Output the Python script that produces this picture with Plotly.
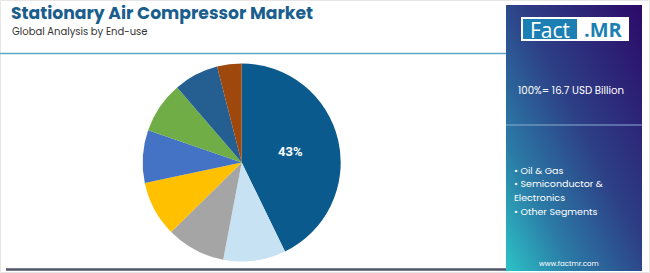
import base64
import plotly.graph_objects as go

# Data
segments = ["Oil & Gas", "Semiconductor & Electronics", "Food & Beverage", "Manufacturing",
            "Healthcare", "Power Generation", "Automotive", "Others"]
shares = [42.8, 10.2, 9.6, 9.1, 8.6, 8.4, 7.3, 4.0]
labels_shown = ["43%", "", "", "", "", "", "", ""]
colors = ["#0b5a8e", "#c7e2f3", "#a5a5a5", "#ffc000", "#4472c4", "#70ad47", "#255e91", "#9e480e"]

title = "Stationary Air Compressor Market"
subtitle = "Global Analysis by End-use"
total_text = "100%= 16.7 USD Billion"
bullets = ["• Oil & Gas", "• Semiconductor &", "Electronics", "• Other Segments"]

W, H = 650, 273
def px(x): return x / W
def py(y): return 1 - y / H

fig = go.Figure()
cx, cy, r = 241.7, 162.5, 99
fig.add_trace(go.Pie(
    labels=segments, values=shares, text=labels_shown, textinfo="text",
    textposition="inside", insidetextorientation="horizontal",
    marker=dict(colors=colors, line=dict(width=0)),
    sort=False, direction="clockwise", rotation=0, showlegend=False,
    textfont=dict(family="Roboto", size=13, color="white", weight="bold"),
    domain=dict(x=[px(cx - r), px(cx + r)], y=[py(cy + r), py(cy - r)]),
    hoverinfo="label+percent",
))

# gradient panel as svg image
svg = ('<svg xmlns="http://www.w3.org/2000/svg" width="136" height="266" preserveAspectRatio="none">'
       '<defs><linearGradient id="g" x1="1" y1="0" x2="0" y2="1">'
       '<stop offset="0" stop-color="#2c0a68"/>'
       '<stop offset="0.45" stop-color="#2d3f86"/>'
       '<stop offset="0.75" stop-color="#2b7aa6"/>'
       '<stop offset="1" stop-color="#2cc3c6"/>'
       '</linearGradient></defs><rect width="136" height="266" fill="url(#g)"/></svg>')
src = "data:image/svg+xml;base64," + base64.b64encode(svg.encode()).decode()
fig.add_layout_image(dict(source=src, xref="paper", yref="paper", x=px(506), y=py(5),
                          sizex=px(642) - px(506), sizey=266 / H, sizing="stretch",
                          xanchor="left", yanchor="top", layer="below"))

shapes = [
    dict(type="rect", xref="paper", yref="paper", x0=px(0.5), x1=px(649.5), y0=py(0.5), y1=py(272.5),
         line=dict(color="#e6e6e6", width=1), layer="below"),
    dict(type="line", xref="paper", yref="paper", x0=0, x1=px(506), y0=py(53.5), y1=py(53.5),
         line=dict(color="#5ea6c6", width=1.5)),
    dict(type="line", xref="paper", yref="paper", x0=px(6), x1=px(506), y0=py(269.5), y1=py(269.5),
         line=dict(color="#4d5566", width=2.5)),
    dict(type="line", xref="paper", yref="paper", x0=px(506), x1=px(642), y0=py(125), y1=py(125),
         line=dict(color="#8aaed0", width=1.2)),
    dict(type="rect", xref="paper", yref="paper", x0=px(521), x1=px(629), y0=py(41), y1=py(17),
         fillcolor="white", line=dict(width=0)),
    dict(type="rect", xref="paper", yref="paper", x0=px(523), x1=px(577), y0=py(39), y1=py(19),
         fillcolor="#1b7fb4", line=dict(width=0)),
]

ann = [
    dict(text=title, x=px(9), y=py(13), xanchor="left", yanchor="middle",
         font=dict(family="Poppins, Inter", size=17.2, color="#1a5e8e", weight="bold")),
    dict(text=subtitle, x=px(10), y=py(31.5), xanchor="left", yanchor="middle",
         font=dict(family="Poppins, Inter", size=10, color="#333333")),
    dict(text="Fact", x=px(550), y=py(29.5), xanchor="center", yanchor="middle",
         font=dict(family="Open Sans", size=21, color="white")),
    dict(text=".MR", x=px(603), y=py(29.5), xanchor="center", yanchor="middle",
         font=dict(family="Open Sans", size=20, color="#1b7fb4", weight="bold")),
    dict(text=total_text, x=px(516), y=py(91), xanchor="left", yanchor="middle",
         font=dict(family="Poppins, Inter", size=10.2, color="white")),
    dict(text="www.factmr.com", x=px(569), y=py(263), xanchor="center", yanchor="middle",
         font=dict(family="Poppins, Inter", size=7, color="white")),
]
for i, b in enumerate(bullets):
    ann.append(dict(text=b, x=px(511.5), y=py(170 + i * 13.7), xanchor="left", yanchor="middle",
                    font=dict(family="Poppins, Inter", size=9.5, color="white")))
for a in ann:
    a.update(xref="paper", yref="paper", showarrow=False)

fig.update_layout(width=W, height=H, margin=dict(l=0, r=0, t=0, b=0),
                  paper_bgcolor="white", plot_bgcolor="white",
                  shapes=shapes, annotations=ann)
fig.write_html("out.html")
